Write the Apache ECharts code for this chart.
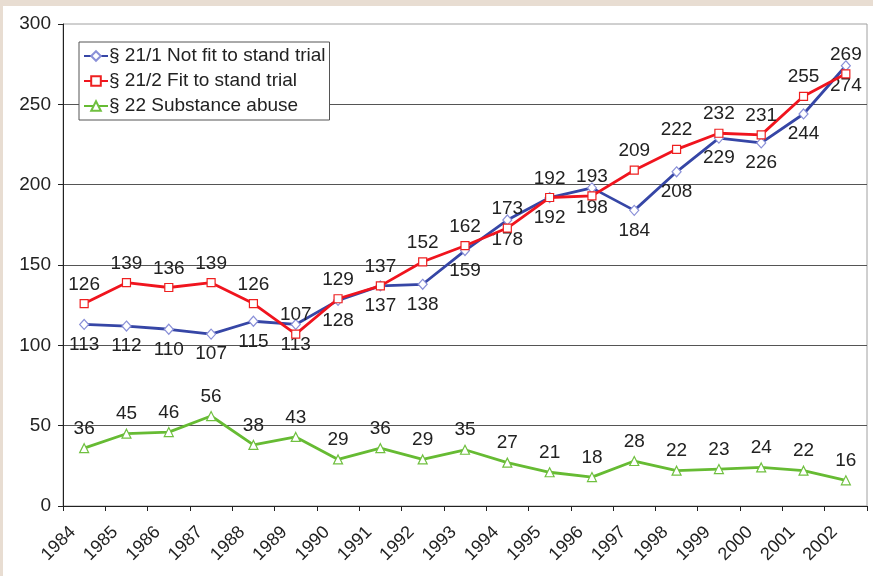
<!DOCTYPE html>
<html>
<head>
<meta charset="utf-8">
<script src="https://cdn.jsdelivr.net/npm/echarts@6/dist/echarts.min.js"></script>
<style>
html,body{margin:0;padding:0;width:873px;height:576px;overflow:hidden;background:#e8ddd2;}
#paper{position:absolute;left:3px;top:6px;width:880px;height:580px;background:#fff;}
#chart{position:absolute;left:0;top:0;width:873px;height:576px;}
</style>
</head>
<body>
<div id="paper"></div>
<div id="chart"></div>
<script>
const years = ['1984','1985','1986','1987','1988','1989','1990','1991','1992','1993','1994','1995','1996','1997','1998','1999','2000','2001','2002'];
const notFit = [113,112,110,107,115,113,128,137,138,159,178,192,198,184,208,229,226,244,274];
const fit = [126,139,136,139,126,107,129,137,152,162,173,192,193,209,222,232,231,255,269];
const substance = [36,45,46,56,38,43,29,36,29,35,27,21,18,28,22,23,24,22,16];
const seriesNames = ['§ 21/1 Not fit to stand trial','§ 21/2 Fit to stand trial','§ 22 Substance abuse'];
const yTicks = {min:0, max:300, interval:50};

const font = 'Arial, "Liberation Sans", sans-serif';
const chart = echarts.init(document.getElementById('chart'));
const lbl = (pos) => ({show:true, position:pos, distance:5, fontSize:19, color:'#222', fontFamily:font});
chart.setOption({
  animation:false,
  backgroundColor:'transparent',
  textStyle:{fontFamily:font},
  grid:{left:63, right:6, top:24, bottom:70, show:true, borderColor:'#a0a0a0', borderWidth:1, backgroundColor:'transparent'},
  legend:{
    left:79, top:42, orient:'vertical',
    backgroundColor:'#fff', borderColor:'#555', borderWidth:1,
    padding:[4,4,4,4], itemGap:5, itemWidth:24, itemHeight:12,
    textStyle:{fontSize:19, color:'#222', fontFamily:font, lineHeight:20, padding:[0,0,0,-4]},
    data:seriesNames
  },
  xAxis:{
    type:'category', data:years, boundaryGap:true,
    axisLine:{lineStyle:{color:'#222', width:1}},
    axisTick:{show:true, length:5, lineStyle:{color:'#222'}},
    axisLabel:{interval:0, rotate:45, fontSize:18, color:'#222', margin:12, padding:[0,16,0,0], fontFamily:font}
  },
  yAxis:{
    type:'value', min:yTicks.min, max:yTicks.max, interval:yTicks.interval,
    axisLine:{show:true, lineStyle:{color:'#222', width:1}},
    axisTick:{show:true, length:5, lineStyle:{color:'#222'}},
    axisLabel:{fontSize:19, color:'#222', margin:12, fontFamily:font},
    splitLine:{show:true, showMinLine:false, showMaxLine:false, lineStyle:{color:'#555', width:1}}
  },
  series:[
    {name:seriesNames[0], type:'line', data:notFit, symbol:'diamond', symbolSize:[9,10],
     lineStyle:{color:'#3646a6', width:2.8}, itemStyle:{color:'#fff', borderColor:'#8a90d8', borderWidth:1.2},
     label:lbl('bottom'), z:2},
    {name:seriesNames[1], type:'line', data:fit, symbol:'rect', symbolSize:8,
     lineStyle:{color:'#f0141e', width:2.8}, itemStyle:{color:'#fff', borderColor:'#ee2020', borderWidth:1.2},
     label:lbl('top'), z:3},
    {name:seriesNames[2], type:'line', data:substance, symbol:'triangle', symbolSize:9,
     lineStyle:{color:'#66bb33', width:2.8}, itemStyle:{color:'#fff', borderColor:'#70c040', borderWidth:1.2},
     label:lbl('top'), z:2}
  ]
});
</script>
</body>
</html>
